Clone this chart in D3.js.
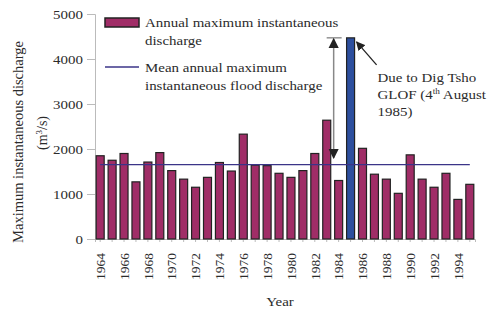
<!DOCTYPE html>
<html>
<head>
<meta charset="utf-8">
<script src="https://d3js.org/d3.v7.min.js"></script>
<style>
  body { margin: 0; background: #fff; }
  text { font-family: "Liberation Serif", "Times New Roman", serif; fill: #2b2b2b; }
</style>
</head>
<body>
<svg id="chart" width="500" height="309"></svg>
<script>
var years = [1964, 1965, 1966, 1967, 1968, 1969, 1970, 1971, 1972, 1973,
             1974, 1975, 1976, 1977, 1978, 1979, 1980, 1981, 1982, 1983,
             1984, 1985, 1986, 1987, 1988, 1989, 1990, 1991, 1992, 1993,
             1994, 1995];
var discharge = [1850, 1750, 1900, 1270, 1710, 1920, 1520, 1330, 1150, 1370,
                 1700, 1510, 2330, 1640, 1630, 1460, 1370, 1520, 1900, 2640,
                 1300, 4470, 2015, 1440, 1330, 1015, 1870, 1330, 1150, 1460,
                 880, 1215];
var meanDischarge = 1655;
var yTicks = [0, 1000, 2000, 3000, 4000, 5000];
var glofYear = 1985;
var arrowFrom = 1800;

var margin = {left: 95, top: 14}
var width = 380, height = 225;
var stretch = 1.15; // the source image is a bit wide

var svg = d3.select('#chart');
var g = svg.append('g')
  .attr('transform', 'translate(' + margin.left + ',' + margin.top + ')');

// horizontal text, stretched sideways round its anchor
function wideText(parent, px, py, size){
  return parent.append('text')
    .attr('transform', 'translate(' + px + ',' + py + ') scale(' + stretch + ',1)')
    .style('font-size', size + 'px');
}

var x = d3.scaleBand()
  .domain(years)
  .range([0, width])
  .paddingInner(0.33)
  .paddingOuter(0.1);

var y = d3.scaleLinear()
  .domain([0, 5000])
  .range([height, 0]);

// y axis
var yAxis = g.append('g')
  .call(d3.axisLeft(y).tickValues(yTicks).tickSize(8).tickFormat(d3.format('d')));
yAxis.selectAll('.domain, line').attr('stroke', '#bbb');
yAxis.selectAll('text')
  .style('font-size', '13px')
  .style('font-family', '"Liberation Serif", serif')
  .attr('fill', '#333')
  .attr('x', 0)
  .attr('transform', 'translate(-12,0) scale(' + stretch + ',1)');

// x axis
var xAxis = g.append('g')
  .attr('transform', 'translate(0,' + height + ')')
  .call(d3.axisBottom(x).tickSize(3)
    .tickFormat(function(d){ return (d % 2 == 0) ? d : ''; }));
xAxis.selectAll('.domain, line').attr('stroke', '#bbb');
xAxis.selectAll('text')
  .style('font-size', '13.5px')
  .style('font-family', '"Liberation Serif", serif')
  .attr('fill', '#333')
  .attr('transform', 'rotate(-90)')
  .attr('text-anchor', 'end')
  .attr('dy', '0.35em')
  .attr('x', -14)
  .attr('y', 0);

// bars
g.selectAll('.bar')
  .data(years)
  .enter()
  .append('rect')
  .attr('class', 'bar')
  .attr('x', function(d){ return x(d); })
  .attr('y', function(d, i){ return y(discharge[i]); })
  .attr('width', x.bandwidth())
  .attr('height', function(d, i){ return height - y(discharge[i]); })
  .style('fill', function(d){ return d == glofYear ? '#2d4f9e' : '#a02d67'; })
  .style('stroke', '#222')
  .style('stroke-width', 1.2);

// mean line
g.append('line')
  .attr('x1', x(years[0]) + x.bandwidth() / 2)
  .attr('x2', x(years[years.length - 1]) + x.bandwidth() / 2)
  .attr('y1', y(meanDischarge))
  .attr('y2', y(meanDischarge))
  .style('stroke', '#3b3488')
  .style('stroke-width', 1.3);

// double arrow
var defs = svg.append('defs');
defs.append('marker')
  .attr('id', 'head')
  .attr('viewBox', '0 0 10 10')
  .attr('refX', 9).attr('refY', 5)
  .attr('markerWidth', 7).attr('markerHeight', 7)
  .attr('orient', 'auto-start-reverse')
  .append('path').attr('d', 'M0,0 L10,5 L0,10 z').style('fill', '#222');

var glofIdx = years.indexOf(glofYear);
var ax = x(years[glofIdx - 1]) - 1;
g.append('line')
  .attr('x1', ax - 7).attr('x2', ax + 8)
  .attr('y1', y(discharge[glofIdx])).attr('y2', y(discharge[glofIdx]))
  .style('stroke', '#777').style('stroke-width', 1.2);
g.append('line')
  .attr('x1', ax).attr('x2', ax)
  .attr('y1', y(discharge[glofIdx]) + 1).attr('y2', y(arrowFrom))
  .style('stroke', '#888').style('stroke-width', 1.5)
  .attr('marker-start', 'url(#head)')
  .attr('marker-end', 'url(#head)');

// annotation arrow
var bx = x(glofYear) + x.bandwidth() + 2;
var by = y(discharge[glofIdx]) + 4;
g.append('line')
  .attr('x1', bx + 20).attr('y1', by + 23)
  .attr('x2', bx).attr('y2', by)
  .style('stroke', '#222').style('stroke-width', 1.3)
  .attr('marker-end', 'url(#head)');

var note = wideText(g, bx + 21, by + 40, 13);
note.append('tspan').attr('x', 0).text('Due to Dig Tsho');
var t2 = note.append('tspan').attr('x', 0).attr('dy', 17).text('GLOF (4');
t2.append('tspan').attr('dy', -5).style('font-size', '8px').text('th');
t2.append('tspan').attr('dy', 5).text(' August');
note.append('tspan').attr('x', 0).attr('dy', 17).text('1985)');

// legend
var leg = svg.append('g').attr('transform', 'translate(105,18)');
leg.append('rect')
  .attr('x', 0).attr('y', 0).attr('width', 34).attr('height', 9)
  .style('fill', '#a02d67').style('stroke', '#222').style('stroke-width', 1.5);
wideText(leg, 40, 9, 13).text('Annual maximum instantaneous');
wideText(leg, 40, 27, 13).text('discharge');
leg.append('line')
  .attr('x1', 0).attr('x2', 34).attr('y1', 49).attr('y2', 49)
  .style('stroke', '#3b3488').style('stroke-width', 1.3);
wideText(leg, 40, 54, 13).text('Mean annual maximum');
wideText(leg, 40, 72, 13).text('instantaneous flood discharge');

// axis titles
svg.append('text')
  .attr('transform', 'translate(23,142) rotate(-90)')
  .attr('text-anchor', 'middle')
  .style('font-size', '14.5px')
  .text('Maximum instantaneous discharge');
var unit = svg.append('text')
  .attr('transform', 'translate(47,133) rotate(-90)')
  .attr('text-anchor', 'middle')
  .style('font-size', '14px');
unit.append('tspan').text('(m');
unit.append('tspan').attr('dy', -5).style('font-size', '9px').text('3');
unit.append('tspan').attr('dy', 5).text('/s)');

wideText(svg, margin.left + width / 2 - 5, 306, 13)
  .attr('text-anchor', 'middle')
  .text('Year');
</script>
</body>
</html>
